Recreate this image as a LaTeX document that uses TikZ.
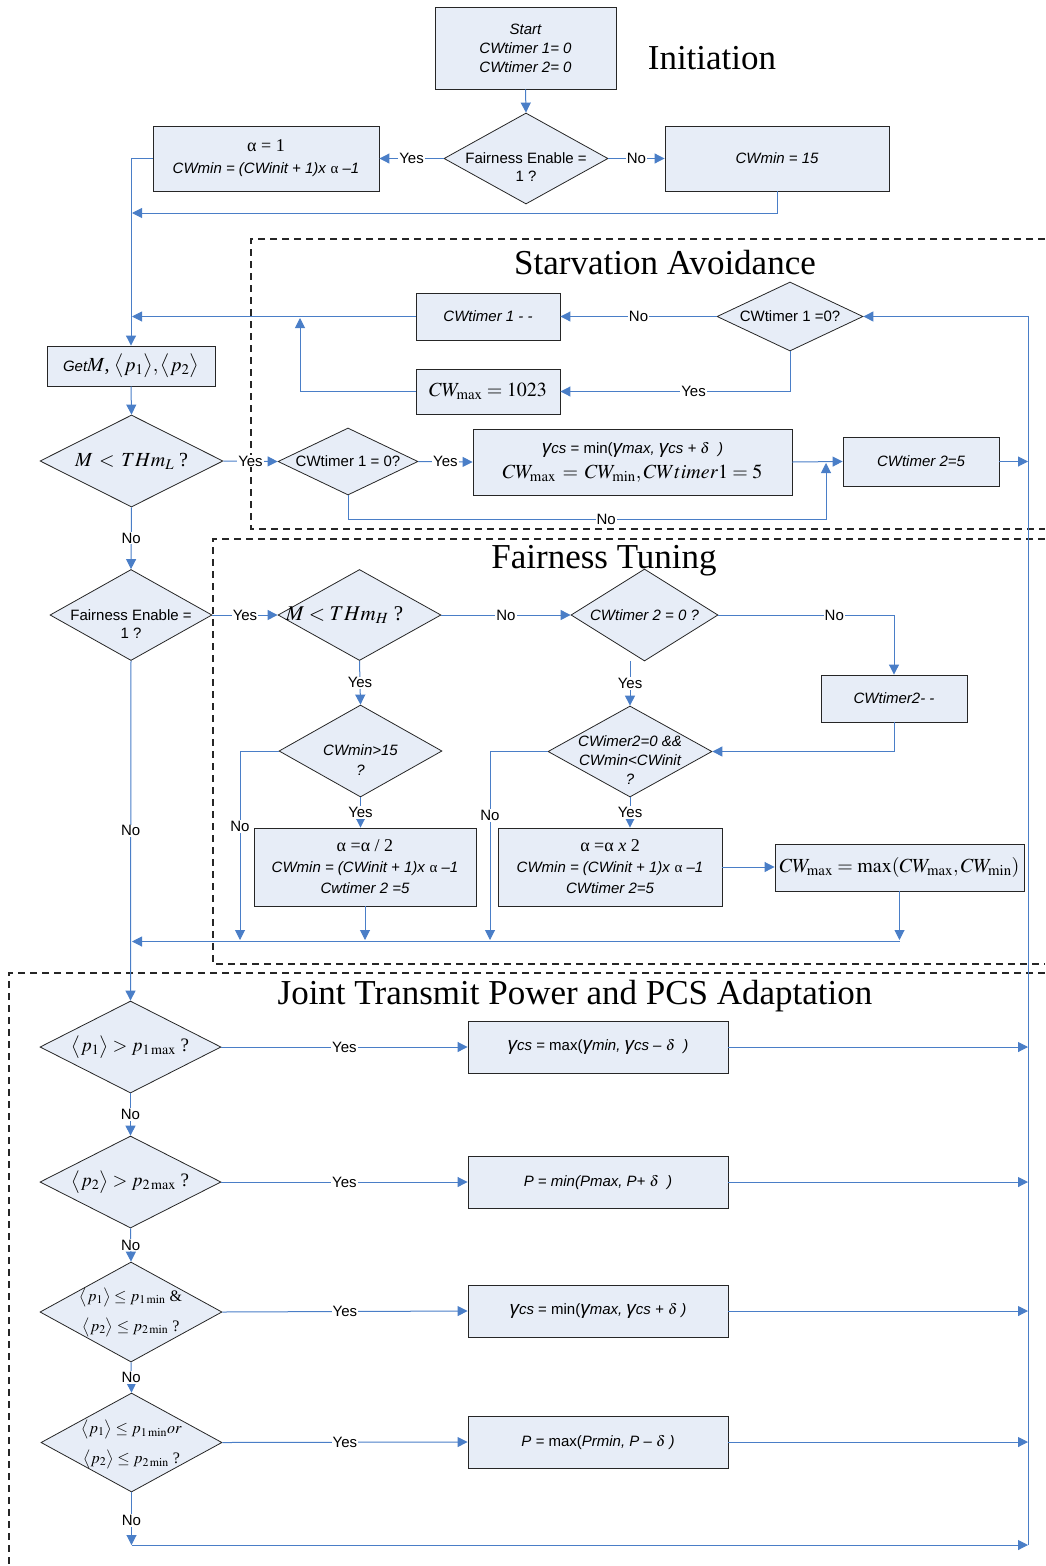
\documentclass[tikz,border=0pt]{standalone}
\usepackage{mathptmx}
\usepackage{fontspec}
\setmainfont{Liberation Serif}
\setsansfont{Liberation Sans}
\usetikzlibrary{shapes.geometric,arrows.meta,shadows}
\definecolor{boxfill}{RGB}{231,237,247}
\definecolor{flowblue}{RGB}{74,126,199}
\newcommand\gam{{\fontsize{19}{19}\selectfont γ}}
\newcommand\sfi[1]{{\sffamily\itshape\fontsize{15}{18}\selectfont #1}}
\newcommand\alp{\textup{\rmfamily α}}
\tikzset{
  txt/.style={font=\sffamily\fontsize{15}{19}\selectfont},
  proc/.style={rectangle, draw=black!85, line width=0.9pt, fill=boxfill, inner sep=0pt,
    align=center, font=\sffamily\itshape\fontsize{15}{19}\selectfont,
    general shadow={shadow xshift=0.9pt, shadow yshift=-0.9pt, fill=black!65}},
  decide/.style={diamond, draw=black!85, line width=0.8pt, fill=boxfill, inner sep=0pt},
  dlabel/.style={align=center, inner sep=0pt, txt},
  mth/.style={font=\fontsize{20}{24}\selectfont},
  flow/.style={draw=flowblue, line width=1pt, -{Triangle[width=10pt,length=10pt]}},
  lbl/.style={fill=white, inner sep=1pt, txt},
  zone/.style={draw=black!85, line width=1.2pt, dash pattern=on 7pt off 5pt},
  zonetitle/.style={font=\rmfamily\fontsize{35}{40}\selectfont}
}
\begin{document}
\begin{tikzpicture}[x=1pt, y=-1pt]
  \useasboundingbox (0,0) rectangle (1045,1566);
  % dashed zones
  \draw[zone] (1045,239) -- (251,239) -- (251,529) -- (1045,529);
  \draw[zone] (1045,539) -- (213,539) -- (213,964) -- (1045,964);
  \draw[zone] (1045,973) -- (9,973) -- (9,1566);
  \node[zonetitle] (tinit) at (712,58) {Initiation};
  \node[zonetitle] (tstarv) at (665,263) {Starvation Avoidance};
  \node[zonetitle] (tfair) at (604,561) {Fairness Tuning};
  \node[zonetitle] (tjoint) at (575,996) {Joint Transmit Power and PCS Adaptation};

  % initiation
  \node[proc, minimum width=181, minimum height=82] (start) at (525.5,48)
    {Start\\CWtimer 1= 0\\CWtimer 2= 0};
  \node[decide, minimum width=164, minimum height=91] (fe1) at (526,158.5) {};
  \node[dlabel, font=\sffamily\fontsize{15}{18}\selectfont] (fe1t) at ([yshift=-9pt]fe1.center)
    {Fairness Enable =\\1 ?};
  \node[proc, minimum width=226, minimum height=65] (alpha1) at (266,158.5)
    {{\rmfamily\upshape\fontsize{18}{18}\selectfont α = 1}\\[3pt]CWmin = (CWinit + 1)x \alp\ –1};
  \node[proc, minimum width=224, minimum height=65] (cwmin15) at (777,158.5) {CWmin = 15};
  \coordinate (joinA) at (132,213);

  % starvation avoidance
  \node[decide, minimum width=146, minimum height=69] (cwt1a) at (790,316.5) {};
  \node[dlabel] (cwt1at) at (cwt1a.center) {CWtimer 1 =0?};
  \node[proc, minimum width=144, minimum height=47] (cwtdec) at (488,316.5) {CWtimer 1 - -};
  \node[proc, mth, minimum width=144, minimum height=45] (cwmax) at (488,391.5) {$CW_{\max} = 1023$};
  \coordinate (joinB) at (300,318);
  \node[proc, mth, minimum width=168, minimum height=40] (getm) at (131,366)
    {\sfi{Get}$M$, $\big\langle p_1\big\rangle,\big\langle p_2\big\rangle$};
  \node[decide, minimum width=183, minimum height=92] (mltl) at (131.5,461) {};
  \node[dlabel, mth] (mltlt) at (mltl.center) {$M \,<\, THm_L$ ?};
  \node[decide, minimum width=140, minimum height=67] (cwt1b) at (348,461.5) {};
  \node[dlabel] (cwt1bt) at (cwt1b.center) {CWtimer 1 = 0?};
  \node[proc, font=\sffamily\itshape\fontsize{15}{25}\selectfont, minimum width=319, minimum height=66] (gambox) at (632.5,462)
    {\gam cs \textup{= min(}\gam max, \gam cs + $\delta$\ \ )\\
     {\fontsize{20}{20}\selectfont\upshape $CW_{\max} \,=\, CW_{\min}, CWtimer1 = 5$}};
  \node[proc, minimum width=156, minimum height=49] (cwt25) at (921,461.5) {CWtimer 2=5};
  \coordinate (joinC) at (826,463);
  \coordinate (noC) at (826,519);
  \coordinate (railTop) at (1028,316.5);
  \coordinate (railBot) at (1028,1545);

  % fairness tuning
  \node[decide, minimum width=162, minimum height=91] (fe2) at (131,615) {};
  \node[dlabel, font=\sffamily\fontsize{15}{18}\selectfont] (fe2t) at ([yshift=-9pt]fe2.center)
    {Fairness Enable =\\1 ?};
  \node[decide, minimum width=163, minimum height=91] (mhd) at (359.5,615) {};
  \node[dlabel, font=\fontsize{21}{24}\selectfont] (mhdt) at ([xshift=-15pt]mhd.center) {$M < THm_H$ ?};
  \node[decide, minimum width=147, minimum height=92] (cwt2d) at (644.5,615) {};
  \node[dlabel, font=\sffamily\itshape\fontsize{15}{18}\selectfont] (cwt2dt) at (cwt2d.center) {CWtimer 2 = 0 ?};
  \node[proc, minimum width=146, minimum height=47] (cwtm2) at (894,698.5) {CWtimer2- -};
  \node[decide, minimum width=163, minimum height=92] (cwm15d) at (360.5,751) {};
  \node[dlabel, font=\sffamily\itshape\fontsize{15}{20}\selectfont] (cwm15dt) at ([yshift=-9pt]cwm15d.center)
    {CWmin>15\\?};
  \node[decide, minimum width=164, minimum height=91] (cwimd) at (630,751.5) {};
  \node[dlabel, font=\sffamily\itshape\fontsize{15}{19}\selectfont] (cwimdt) at ([yshift=-9pt]cwimd.center)
    {CWimer2=0 \&\&\\CWmin<CWinit\\?};
  \node[proc, minimum width=222, minimum height=78, font=\sffamily\itshape\fontsize{15}{21}\selectfont] (a2box) at (365,867)
    {{\rmfamily\upshape\fontsize{18}{18}\selectfont α =α / 2}\\CWmin = (CWinit + 1)x \alp\ –1\\Cwtimer 2 =5};
  \node[proc, minimum width=224, minimum height=78, font=\sffamily\itshape\fontsize{15}{21}\selectfont] (ax2box) at (610,867)
    {{\rmfamily\upshape\fontsize{18}{18}\selectfont α =α \textit{x} 2}\\CWmin = (CWinit + 1)x \alp\ –1\\CWtimer 2=5};
  \node[proc, mth, minimum width=249, minimum height=47] (cwmm) at (899.5,867.5)
    {$CW_{\max} = \max(CW_{\max}, CW_{\min})$};
  \coordinate (noD) at (240,940);
  \coordinate (noE) at (490,940);
  \coordinate (mergeR) at (899.5,941.5);
  \coordinate (mergeL) at (132,941.5);

  % joint transmit power and pcs adaptation
  \node[decide, minimum width=181, minimum height=92] (p1d) at (130.5,1047) {};
  \node[dlabel, font=\fontsize{19}{22}\selectfont] (p1dt) at (p1d.center)
    {$\big\langle p_1\big\rangle > p_{1\max}$ ?};
  \node[decide, minimum width=181, minimum height=92] (p2d) at (130.5,1182) {};
  \node[dlabel, font=\fontsize{19}{22}\selectfont] (p2dt) at (p2d.center)
    {$\big\langle p_2\big\rangle > p_{2\max}$ ?};
  \node[decide, minimum width=182, minimum height=100] (p3d) at (131,1312) {};
  \node[dlabel, font=\fontsize{16}{30}\selectfont] (p3dt) at (p3d.center)
    {$\big\langle p_1\big\rangle \le p_{1\min}$ \&\\$\big\langle p_2\big\rangle \le p_{2\min}$ ?};
  \node[decide, minimum width=181, minimum height=99] (p4d) at (131.5,1442.5) {};
  \node[dlabel, font=\fontsize{16}{30}\selectfont] (p4dt) at ([yshift=-2pt]p4d.center)
    {$\big\langle p_1\big\rangle \le p_{1\min} or$\\$\big\langle p_2\big\rangle \le p_{2\min}$ ?};
  \node[proc, minimum width=260, minimum height=52] (g2box) at (598,1047)
    {\gam cs \textup{= max(}\gam min, \gam cs – $\delta$\ \ )};
  \node[proc, minimum width=260, minimum height=52] (pminbox) at (598,1182)
    {P = min(Pmax, P+ $\delta$\ \ )};
  \node[proc, minimum width=260, minimum height=52] (g3box) at (598,1311)
    {\gam cs \textup{= min(}\gam max, \gam cs + $\delta$\ )};
  \node[proc, minimum width=260, minimum height=52] (pmaxbox) at (598,1442)
    {P = \textup{max(}Prmin, P – $\delta$\ )};
  \coordinate (endL) at (131.5,1545);

  % connectors: initiation
  \draw[flow] (start.south) -- (fe1.north);
  \draw[flow] (fe1.west) -- node[lbl]{Yes} (alpha1.east);
  \draw[flow] (fe1.east) -- node[lbl]{No} (cwmin15.west);
  \draw[flow] (alpha1.west) -- (alpha1.west -| getm.north) -- (getm.north);
  \draw[flow] (cwmin15.south) |- (joinA);

  % connectors: starvation avoidance
  \draw[flow] (cwt1a.west) -- node[lbl]{No} (cwtdec.east);
  \draw[flow] (cwt1a.south) |- node[lbl, pos=0.71]{Yes} (cwmax.east);
  \draw[flow] (cwmax.west) -| (joinB);
  \draw[flow] (cwtdec.west) -- (cwtdec.west -| joinA);
  \draw[flow] (getm.south) -- (mltl.north);
  \draw[flow] (mltl.east) -- node[lbl]{Yes} (cwt1b.west);
  \draw[flow] (cwt1b.east) -- node[lbl]{Yes} (gambox.west);
  \draw[flow] (gambox.east) -- (cwt25.west);
  \draw[flow] (cwt1b.south) |- node[lbl, pos=0.77]{No} (noC) -- (joinC);
  \draw[flow] (cwt25.east) -- (cwt25.east -| railTop);
  \draw[flow] (railBot) -- (railTop) -- (cwt1a.east);

  % connectors: fairness tuning
  \draw[flow] (mltl.south) -- node[lbl]{No} (fe2.north);
  \draw[flow] (fe2.east) -- node[lbl]{Yes} (mhd.west);
  \draw[flow] (mhd.east) -- node[lbl]{No} (cwt2d.west);
  \draw[flow] (cwt2d.east) -| node[lbl, pos=0.33]{No} (cwtm2.north);
  \draw[flow] (cwtm2.south) |- (cwimd.east);
  \draw[flow] (mhd.south) -- node[lbl]{Yes} (cwm15d.north);
  \draw[flow] (cwt2d.south -| cwimd.north) -- node[lbl]{Yes} (cwimd.north);
  \draw[flow] (cwm15d.south) -- node[lbl]{Yes} (cwm15d.south |- a2box.north);
  \draw[flow] (cwimd.south) -- node[lbl]{Yes} (cwimd.south |- ax2box.north);
  \draw[flow] (cwm15d.west) -| node[lbl, pos=0.7]{No} (noD);
  \draw[flow] (cwimd.west) -| node[lbl, pos=0.67]{No} (noE);
  \draw[flow] (ax2box.east) -- (ax2box.east -| cwmm.west);
  \draw[flow] (cwmm.south) -- (cwmm.south |- noD);
  \draw[flow] (a2box.south) -- (a2box.south |- noD);
  \draw[flow] (mergeR) -- (mergeL);
  \draw[flow] (fe2.south) -- node[lbl]{No} (p1d.north);

  % connectors: joint adaptation
  \foreach \d/\b in {p1d/g2box, p2d/pminbox, p3d/g3box, p4d/pmaxbox}{
    \draw[flow] (\d.east) -- node[lbl]{Yes} (\b.west);
    \draw[flow] (\b.east) -- (\b.east -| railBot);
  }
  \draw[flow] (p1d.south) -- node[lbl]{No} (p2d.north);
  \draw[flow] (p2d.south) -- node[lbl]{No} (p3d.north);
  \draw[flow] (p3d.south) -- node[lbl]{No} (p4d.north);
  \draw[flow] (p4d.south) -- node[lbl, pos=0.53]{No} (endL);
  \draw[flow] (endL) -- (railBot);
\end{tikzpicture}
\end{document}
